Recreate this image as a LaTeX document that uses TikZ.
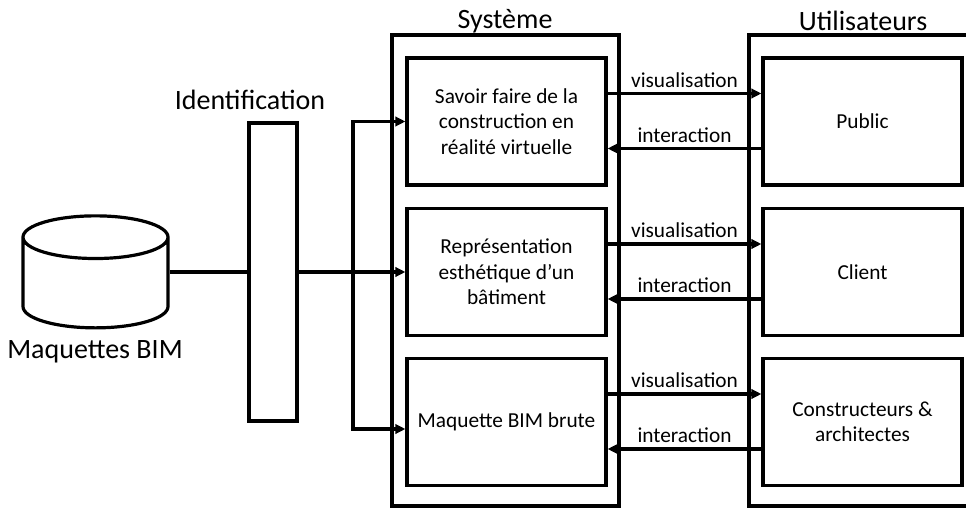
\documentclass[tikz,border=0pt]{standalone}
\usepackage{fontspec}
\setmainfont{Carlito}
\usetikzlibrary{shapes.geometric,arrows.meta}
\begin{document}
\begin{tikzpicture}[x=0.75pt,y=-0.75pt, line width=2.4pt,
  box/.style={draw, minimum width=149.25pt, minimum height=95.25pt, align=center, font=\fontsize{16}{19}\selectfont},
  title/.style={font=\fontsize{21}{25}\selectfont},
  lab/.style={font=\fontsize{16}{19}\selectfont, above},
  arr/.style={-{Triangle[length=7.5pt,width=7pt]}}]
\clip (0,0) rectangle (966,509);
\node[draw, cylinder, shape border rotate=90, aspect=4.8, minimum width=108.75pt, minimum height=84pt] (db) at (95.5,287) {};
\node[title] (dblab) at (95,352) {Maquettes BIM};
\node[draw, minimum width=36pt, minimum height=223.5pt] (idbar) at (273,272) {};
\node[title] (idlab) at (250,100) {Identification};
\node[draw, minimum width=170.25pt, minimum height=353.25pt] (system) at (505.5,270.5) {};
\node[title] (syslab) at (505,21) {Système};
\node[draw, minimum width=167.25pt, minimum height=353.25pt] (users) at (860.5,270.5) {};
\node[title] (userlab) at (863,21) {Utilisateurs};
% system side
\node[box] (savoir) at (506.5,121.5) {Savoir faire de la\\construction en\\réalité virtuelle};
\node[box] (repr) at (506.5,272) {Représentation\\esthétique d’un\\bâtiment};
\node[box] (brute) at (506.5,422) {Maquette BIM brute};
% users side
\node[box] (public) at (862.5,121.5) {Public};
\node[box] (client) at (862.5,272) {Client};
\node[box] (constr) at (862.5,422) {Constructeurs \&\\architectes};
% feeding the system
\draw (db.east |- idbar.west) -- (idbar.west);
\draw[arr] (idbar.east) -- (repr.west);
\coordinate (fork) at (353,272);
\draw[arr] (fork) |- (savoir.west);
\draw[arr] (fork) |- ([yshift=-5.25pt]brute.west);
% system <-> users
\foreach \s/\u in {savoir/public, repr/client, brute/constr} {
  \draw[arr] ([yshift=21pt]\s.east) -- node[lab] {visualisation} ([yshift=21pt]\u.west);
  \draw[arr] ([yshift=-20.25pt]\u.west) -- node[lab] {interaction} ([yshift=-20.25pt]\s.east);
}
\end{tikzpicture}
\end{document}
